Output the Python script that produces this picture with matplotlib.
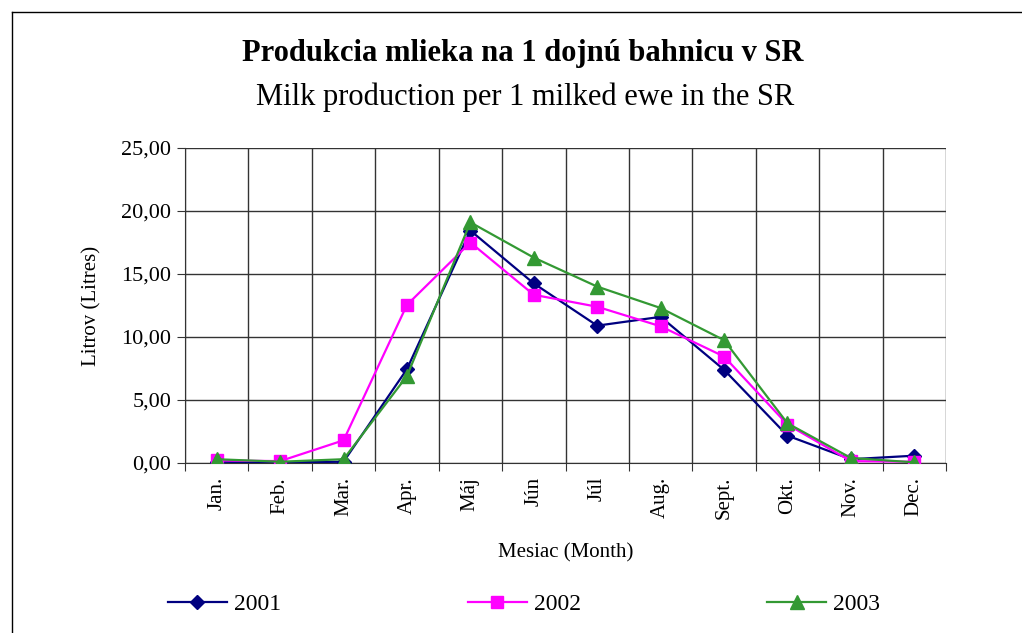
import matplotlib
matplotlib.use("Agg")
import matplotlib.pyplot as plt
from matplotlib.lines import Line2D

months = ["Jan.", "Feb.", "Mar.", "Apr.", "Máj", "Jún", "Júl", "Aug.", "Sept.", "Okt.", "Nov.", "Dec."]
y2001 = [0.1, 0.05, 0.1, 7.45, 18.45, 14.25, 10.9, 11.6, 7.4, 2.17, 0.3, 0.58]
y2002 = [0.2, 0.15, 1.8, 12.55, 17.5, 13.35, 12.4, 10.85, 8.45, 3.05, 0.15, 0.1]
y2003 = [0.3, 0.1, 0.3, 6.9, 19.1, 16.3, 14.0, 12.3, 9.75, 3.15, 0.4, 0.05]
yticks = [0, 5, 10, 15, 20, 25]

plt.rcParams['font.family'] = ['Liberation Serif', 'DejaVu Serif']

W, H = 1022, 633
fig = plt.figure(figsize=(W / 100, H / 100), dpi=100)
ax = fig.add_axes([185 / W, (H - 463) / H, 761 / W, 315 / H])

x = list(range(len(months)))
ax.plot(x, y2001, color='#000080', lw=1.6, marker='D', ms=7, label='2001', zorder=3)
ax.plot(x, y2002, color='#FF00FF', lw=1.6, marker='s', ms=8.5, label='2002', zorder=3)
ax.plot(x, y2003, color='#339933', lw=1.6, marker='^', ms=10, label='2003', zorder=4)

ax.set_xlim(-0.5, len(months) - 0.5)
ax.set_ylim(0, 25)
ax.set_yticks(yticks)
ax.set_yticklabels([f"{v:.2f}".replace('.', ',') for v in yticks], fontsize=16)
ax.set_xticks([i - 0.5 for i in range(len(months) + 1)])
ax.set_xticklabels([])
ax.set_xticks(x, minor=True)
ax.set_xticklabels(months, minor=True, rotation=90, fontsize=15)
ax.tick_params(axis='x', which='minor', length=0, pad=10)
ax.tick_params(axis='x', which='major', length=6, direction='out', color='#333333')
ax.tick_params(axis='y', length=6, direction='out', color='#333333', pad=4)
ax.grid(True, which='major', color='#333333', lw=1)
for s in ['top', 'right']:
    ax.spines[s].set_visible(False)
for s in ['left', 'bottom']:
    ax.spines[s].set_color('#333333')

ax.set_ylabel('Litrov (Litres)', fontsize=15, labelpad=14)
fig.text(566 / W, 1 - 553 / H, 'Mesiac (Month)', ha='center', va='center', fontsize=15)

fig.text(523 / W, 1 - 53 / H, 'Produkcia mlieka na 1 dojnú bahnicu v SR', ha='center', va='center',
         fontsize=22, fontweight='bold')
fig.text(525 / W, 1 - 97 / H, 'Milk production per 1 milked ewe in the SR', ha='center', va='center',
         fontsize=22)

fig.legend(loc='center', bbox_to_anchor=(524 / W, 1 - 604 / H), ncol=3, frameon=False,
           fontsize=17, handlelength=2.5, columnspacing=7.9, handletextpad=0.3)

fig.add_artist(Line2D([12 / W, 12 / W], [0, 1 - 12 / H], transform=fig.transFigure, color='black', lw=1))
fig.add_artist(Line2D([12 / W, 1], [1 - 12 / H, 1 - 12 / H], transform=fig.transFigure, color='black', lw=1))

fig.savefig('out.png', dpi=100)
